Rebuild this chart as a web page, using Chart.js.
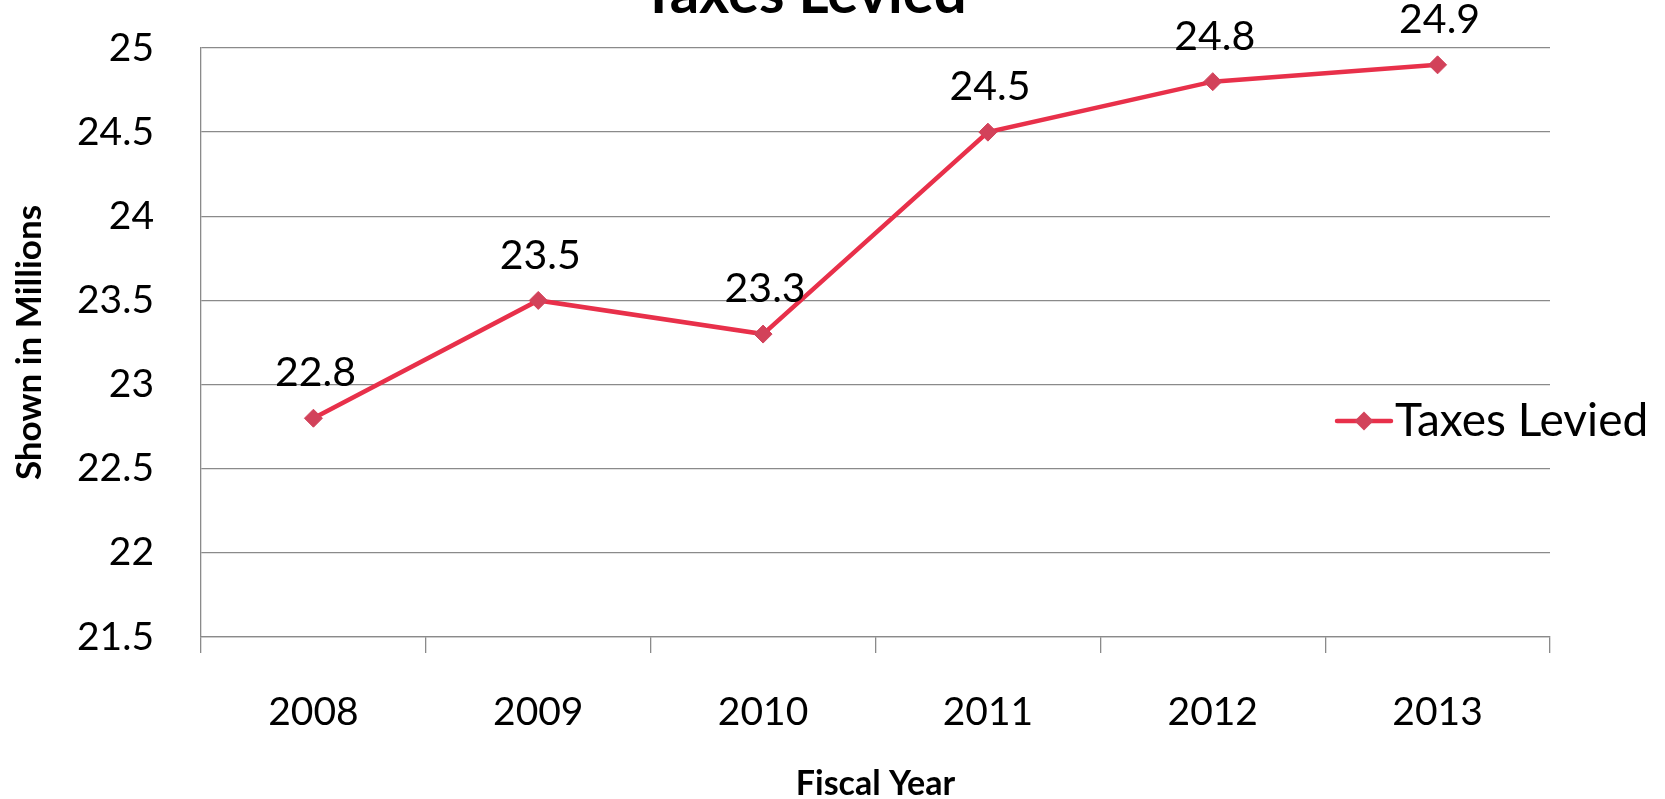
<!DOCTYPE html>
<html><head><meta charset="utf-8">
<script src="https://cdn.jsdelivr.net/npm/chart.js@4.4.1/dist/chart.umd.min.js"></script>
<style>html,body{margin:0;padding:0;background:#fff;overflow:hidden}#wrap{position:relative;width:1665px;height:799px}</style>
</head><body><div id="wrap"><canvas id="c" width="1665" height="799"></canvas></div>
<script>
const categories = ['2008', '2009', '2010', '2011', '2012', '2013'];
const taxesLevied = [22.8, 23.5, 23.3, 24.5, 24.8, 24.9];
const yTickValues = [21.5, 22, 22.5, 23, 23.5, 24, 24.5, 25];
const seriesName = 'Taxes Levied';
const chartTitle = 'Taxes Levied';
const xAxisTitle = 'Fiscal Year';
const yAxisTitle = 'Shown in Millions';

const FONT = 'Lato';
const LINE_COLOR = '#E8304A';
const MARKER_COLOR = '#D2425A';
const GRID = '#8a8a8a';

const labelsPlugin = {
  id: 'extras',
  afterDatasetsDraw(chart) {
    const ctx = chart.ctx;
    const meta = chart.getDatasetMeta(0);
    ctx.save();
    ctx.fillStyle = '#000';
    ctx.font = '41px ' + FONT;
    ctx.textAlign = 'center';
    ctx.textBaseline = 'middle';
    meta.data.forEach((pt, i) => {
      ctx.fillText(String(taxesLevied[i]), pt.x + 2, pt.y - 45);
    });
    ctx.restore();
  },
  afterDraw(chart) {
    const ctx = chart.ctx;
    ctx.save();
    // title (mostly cut off at the top)
    ctx.fillStyle = '#000';
    ctx.font = 'bold 58px ' + FONT;
    ctx.textAlign = 'center';
    ctx.textBaseline = 'alphabetic';
    ctx.fillText(chartTitle, 804, 13);
    // legend
    const ly = 421;
    ctx.strokeStyle = LINE_COLOR;
    ctx.lineWidth = 4.5;
    ctx.lineCap = 'round';
    ctx.beginPath();
    ctx.moveTo(1337, ly);
    ctx.lineTo(1391, ly);
    ctx.stroke();
    ctx.fillStyle = MARKER_COLOR;
    ctx.beginPath();
    ctx.moveTo(1364 - 9.5, ly);
    ctx.lineTo(1364, ly - 9.5);
    ctx.lineTo(1364 + 9.5, ly);
    ctx.lineTo(1364, ly + 9.5);
    ctx.closePath();
    ctx.fill();
    ctx.fillStyle = '#000';
    ctx.font = '46px ' + FONT;
    ctx.textAlign = 'left';
    ctx.textBaseline = 'middle';
    ctx.fillText(seriesName, 1395, ly);
    ctx.restore();
  }
};

new Chart(document.getElementById('c'), {
  type: 'line',
  data: {
    labels: categories,
    datasets: [{
      label: seriesName,
      data: taxesLevied,
      borderColor: LINE_COLOR,
      borderWidth: 4.5,
      pointStyle: 'rectRot',
      pointRadius: 9,
      pointBackgroundColor: MARKER_COLOR,
      pointBorderColor: MARKER_COLOR,
      pointBorderWidth: 1,
      tension: 0,
      fill: false
    }]
  },
  options: {
    responsive: false,
    animation: false,
    devicePixelRatio: 1,
    layout: { padding: { top: 48, right: 115, bottom: 0, left: 0 } },
    plugins: { legend: { display: false }, title: { display: false }, tooltip: { enabled: false } },
    scales: {
      x: {
        type: 'category',
        offset: true,
        grid: { offset: true, drawOnChartArea: false, drawTicks: true, tickLength: 16, color: GRID, lineWidth: 1.3 },
        border: { color: GRID, width: 1.3 },
        ticks: { color: '#000', font: { family: FONT, size: 39 }, padding: 36, maxRotation: 0 },
        title: { display: true, text: xAxisTitle, color: '#000', font: { family: FONT, size: 34, weight: 'bold', lineHeight: 0.9 }, padding: 0 },
        afterFit(s) { s.height = 162; s.paddingLeft = 0; s.paddingRight = 0; }
      },
      y: {
        min: 21.5, max: 25,
        afterBuildTicks(s) { s.ticks = yTickValues.map(v => ({ value: v })); },
        grid: { color: GRID, lineWidth: 1.3, drawTicks: false },
        border: { color: GRID, width: 1.3 },
        ticks: { color: '#000', font: { family: FONT, size: 39 }, padding: 47, callback: v => String(v) },
        title: { display: true, text: yAxisTitle, color: '#000', font: { family: FONT, size: 35, weight: 'bold', lineHeight: 1 }, padding: { top: 12, bottom: 0 } },
        afterFit(s) { s.width = 201; s.paddingTop = 0; s.paddingBottom = 0; }
      }
    }
  },
  plugins: [labelsPlugin]
});
</script></body></html>
